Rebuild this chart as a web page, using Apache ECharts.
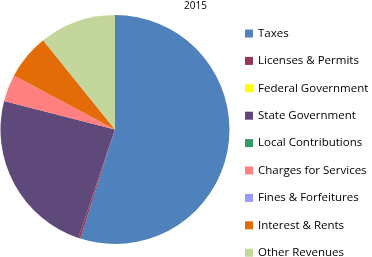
<!DOCTYPE html>
<html><head><meta charset="utf-8">
<script src="https://cdn.jsdelivr.net/npm/echarts@6/dist/echarts.min.js"></script>
<style>html,body{margin:0;padding:0;background:#fff}#c{width:372px;height:257px}</style>
</head><body><div id="c"></div>
<script>
const title = '2015';
const categories = ['Taxes','Licenses & Permits','Federal Government','State Government','Local Contributions','Charges for Services','Fines & Forfeitures','Interest & Rents','Other Revenues'];
const values = [54.9, 0.3, 0, 23.8, 0, 3.8, 0, 6.4, 10.8];
const colors = ['#4F81BD','#953959','#FFFF00','#5F497A','#339966','#FF8080','#9999FF','#E36C09','#C3D69B'];

const chart = echarts.init(document.getElementById('c'), null, {renderer:'canvas'});
chart.setOption({
  animation:false,
  title:{text:title,left:179,top:-4,textStyle:{fontFamily:'Open Sans',fontSize:10,fontWeight:'normal',color:'#000'}},
  legend:{type:'plain',orient:'vertical',left:245,top:27.5,height:260,padding:0,itemWidth:8,itemHeight:8,itemGap:15.4,icon:'rect',
    textStyle:{fontFamily:'Open Sans',fontSize:11.5,color:'#000'},
    data:categories},
  series:[{type:'pie',center:[115,129.5],radius:114.5,startAngle:90,clockwise:true,
    label:{show:false},labelLine:{show:false},emphasis:{disabled:true},
    data:categories.map((n,i)=>({name:n,value:values[i],itemStyle:{color:colors[i]}}))}]
});
</script></body></html>
